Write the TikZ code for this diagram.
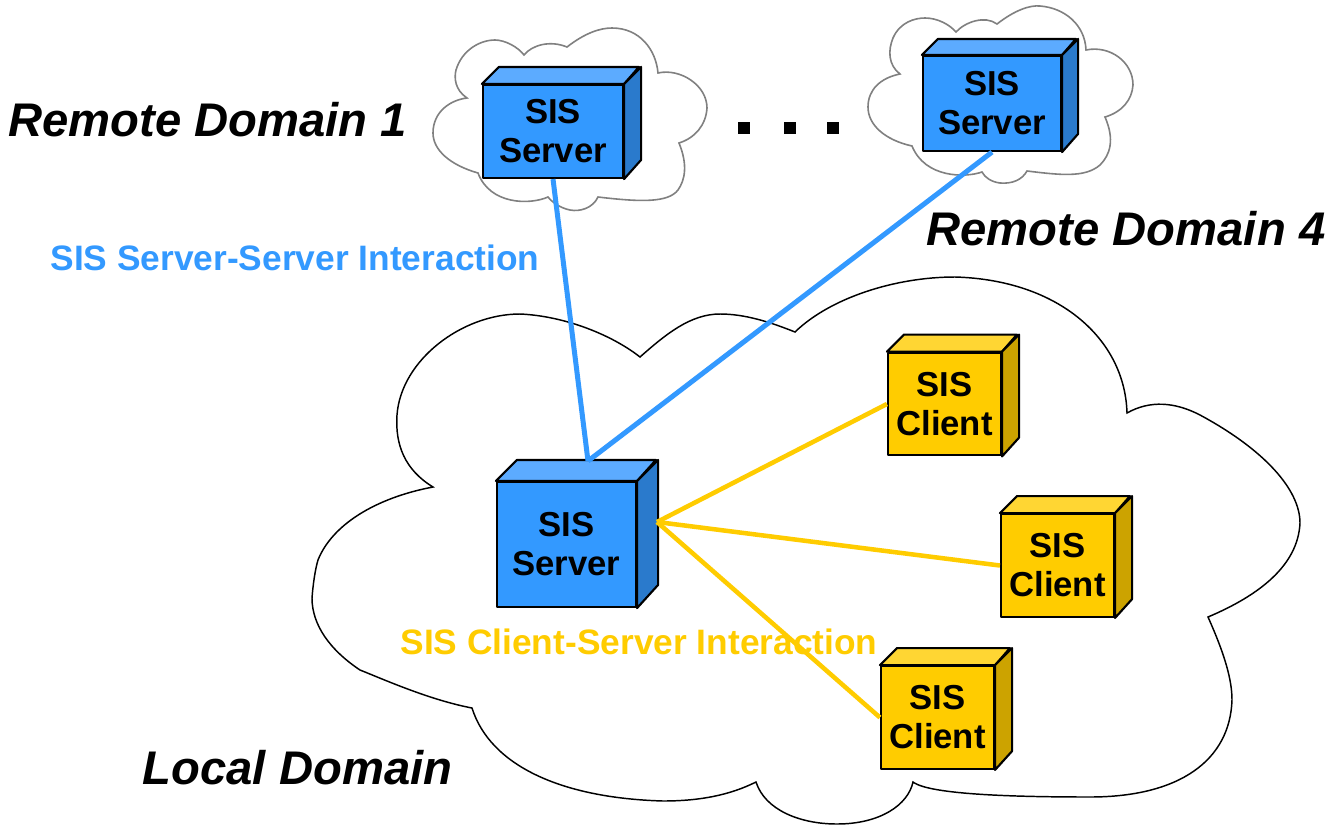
\documentclass[tikz,border=0pt]{standalone}
\usepackage{fontspec}
\setmainfont{Liberation Sans}
\usepackage{tikz}
\definecolor{srvblue}{HTML}{3399FF}
\definecolor{srvblueT}{HTML}{5CABFF}
\definecolor{srvblueS}{HTML}{2A7ACC}
\definecolor{cliyel}{HTML}{FFCC00}
\definecolor{cliyelT}{HTML}{FFD633}
\definecolor{cliyelS}{HTML}{CCA300}
\tikzset{
  boxface/.style={draw=black,line width=1.6pt,line join=round,inner sep=0pt,align=center,
    font=\fontsize{26}{29.3}\selectfont\bfseries},
  serverbox/.style={boxface,fill=srvblue},
  clientbox/.style={boxface,fill=cliyel,minimum width=84.75pt,minimum height=77pt},
  boxedge/.style={draw=black,line width=1.6pt,line join=round},
  cloudline/.style={draw=black,line width=1.1pt,fill=white},
  smallcloud/.style={draw=black!50,line width=1.2pt,fill=white},
  serverlink/.style={draw=srvblue,line width=3.75pt},
  clientlink/.style={draw=cliyel,line width=3.4pt},
  domainlabel/.style={inner sep=0pt,font=\fontsize{35.4}{40}\selectfont\bfseries\itshape},
  linklabel/.style={inner sep=0pt,font=\fontsize{26.5}{30}\selectfont\bfseries},
  dotmark/.style={fill=black,inner sep=0pt,minimum size=9.5pt}
}

\begin{document}
\begin{tikzpicture}[x=0.75pt,y=0.75pt,yscale=-1,xscale=1]
\useasboundingbox (0,0) rectangle (1343,825);

%Cloud: local domain
\draw[cloudline] (433,487) .. controls (405,470) and (395,445) .. (397,415)
  .. controls (401,360) and (462,314) .. (520,314)
  .. controls (565,316) and (612,335) .. (640,357)
  .. controls (665,335) and (690,314) .. (720,314)
  .. controls (745,314) and (770,322) .. (795,332)
  .. controls (830,298) and (895,277) .. (955,277)
  .. controls (1060,280) and (1125,340) .. (1127,413)
  .. controls (1150,400) and (1175,402) .. (1200,415)
  .. controls (1265,450) and (1300,490) .. (1300,523)
  .. controls (1298,565) and (1260,595) .. (1208,617)
  .. controls (1225,655) and (1232,680) .. (1232,700)
  .. controls (1230,760) and (1180,797) .. (1090,797)
  .. controls (1020,797) and (930,795) .. (913,782)
  .. controls (908,805) and (880,824) .. (837,824)
  .. controls (800,824) and (765,810) .. (756,782)
  .. controls (730,795) and (700,801) .. (663,801)
  .. controls (560,798) and (490,765) .. (472,708)
  .. controls (430,700) and (385,680) .. (360,670)
  .. controls (330,650) and (312,625) .. (312,598)
  .. controls (313,585) and (315,570) .. (318,560)
  .. controls (332,525) and (375,498) .. (433,487) -- cycle;

%Cloud: remote domain 1
\draw[smallcloud] (467,98) .. controls (455,90) and (454,78) .. (456,70)
  .. controls (462,50) and (480,40) .. (495,40)
  .. controls (505,40) and (518,47) .. (524,55)
  .. controls (532,45) and (550,40) .. (567,47)
  .. controls (585,33) and (600,28) .. (612,28)
  .. controls (640,28) and (656,50) .. (658,73)
  .. controls (680,68) and (707,85) .. (707,108)
  .. controls (706,125) and (695,138) .. (679,143)
  .. controls (688,165) and (685,180) .. (678,190)
  .. controls (668,203) and (640,202) .. (598,197)
  .. controls (593,208) and (580,212) .. (570,210)
  .. controls (560,208) and (552,202) .. (548,197)
  .. controls (530,205) and (490,205) .. (478,173)
  .. controls (450,165) and (433,150) .. (433,133)
  .. controls (433,112) and (450,100) .. (467,98) -- cycle;

%Cloud: remote domain 4
\draw[smallcloud] (900,74) .. controls (888,65) and (888,50) .. (893,38)
  .. controls (900,22) and (915,18) .. (925,18)
  .. controls (938,18) and (950,25) .. (956,32)
  .. controls (965,22) and (985,15) .. (997,24)
  .. controls (1015,10) and (1030,5) .. (1040,6)
  .. controls (1065,8) and (1085,25) .. (1086,50)
  .. controls (1110,45) and (1133,62) .. (1133,85)
  .. controls (1132,100) and (1122,112) .. (1105,117)
  .. controls (1115,140) and (1110,155) .. (1100,165)
  .. controls (1085,178) and (1060,175) .. (1027,171)
  .. controls (1022,180) and (1012,184) .. (1000,183)
  .. controls (992,182) and (985,178) .. (982,172)
  .. controls (965,178) and (925,178) .. (912,146)
  .. controls (885,140) and (868,125) .. (868,107)
  .. controls (868,90) and (880,78) .. (900,74) -- cycle;

%Boxes
\node[serverbox,minimum width=105pt,minimum height=69.75pt] (srvone) at (553,131.5) {SIS\\Server};
\draw[boxedge,fill=srvblueT] (srvone.north west) -- ++(17,-17) -- ++(140,0) -- (srvone.north east) -- cycle;
\draw[boxedge,fill=srvblueS] (srvone.north east) -- ++(17,-17) -- ++(0,93) -- (srvone.south east) -- cycle;

\node[serverbox,minimum width=103.5pt,minimum height=71.25pt] (srvfour) at (992,103.5) {SIS\\Server};
\draw[boxedge,fill=srvblueT] (srvfour.north west) -- ++(16,-16) -- ++(138,0) -- (srvfour.north east) -- cycle;
\draw[boxedge,fill=srvblueS] (srvfour.north east) -- ++(16,-16) -- ++(0,95) -- (srvfour.south east) -- cycle;

\node[serverbox,minimum width=104.25pt,minimum height=93.75pt] (srvlocal) at (566.5,544.5) {SIS\\Server};
\draw[boxedge,fill=srvblueT] (srvlocal.north west) -- ++(21,-21) -- ++(139,0) -- (srvlocal.north east) -- cycle;
\draw[boxedge,fill=srvblueS] (srvlocal.north east) -- ++(21,-21) -- ++(0,125) -- (srvlocal.south east) -- cycle;

\node[clientbox] (clione) at (944.5,404) {SIS\\Client};
\draw[boxedge,fill=cliyelT] (clione.north west) -- ++(17,-17) -- ++(113,0) -- (clione.north east) -- cycle;
\draw[boxedge,fill=cliyelS] (clione.north east) -- ++(17,-17) -- ++(0,103) -- (clione.south east) -- cycle;

\node[clientbox] (clitwo) at (1057.5,565.5) {SIS\\Client};
\draw[boxedge,fill=cliyelT] (clitwo.north west) -- ++(17,-17) -- ++(113,0) -- (clitwo.north east) -- cycle;
\draw[boxedge,fill=cliyelS] (clitwo.north east) -- ++(17,-17) -- ++(0,103) -- (clitwo.south east) -- cycle;

\node[clientbox] (clithree) at (937.5,717.5) {SIS\\Client};
\draw[boxedge,fill=cliyelT] (clithree.north west) -- ++(17,-17) -- ++(113,0) -- (clithree.north east) -- cycle;
\draw[boxedge,fill=cliyelS] (clithree.north east) -- ++(17,-17) -- ++(0,103) -- (clithree.south east) -- cycle;

\coordinate (srvlocaltop) at (588,461);
\coordinate (srvlocalport) at (657,522);

% Text Node
\node[domainlabel] (remoteone) at (207.5,120) {Remote Domain 1};
\node[domainlabel] (remotefour) at (1126,229) {Remote Domain 4};
\node[domainlabel] (localdom) at (297.5,768) {Local Domain};
\node[linklabel,text=srvblue] (serverlabel) at (295,258) {SIS Server-Server Interaction};
\node[linklabel,text=cliyel] (clientlabel) at (639,642) {SIS Client-Server Interaction};

%Straight Lines
\draw[serverlink] (srvone.south) -- (srvlocaltop);
\draw[serverlink] (srvfour.south) -- (srvlocaltop);
\draw[clientlink] (srvlocalport) -- (clione.west);
\draw[clientlink] (srvlocalport) -- (clitwo.west);
\draw[clientlink] (srvlocalport) -- (clithree.west);

%Dots
\node[dotmark] (dotone) at (744,128) {};
\node[dotmark] (dottwo) at (790,128) {};
\node[dotmark] (dotthree) at (833,128) {};

\end{tikzpicture}
\end{document}
